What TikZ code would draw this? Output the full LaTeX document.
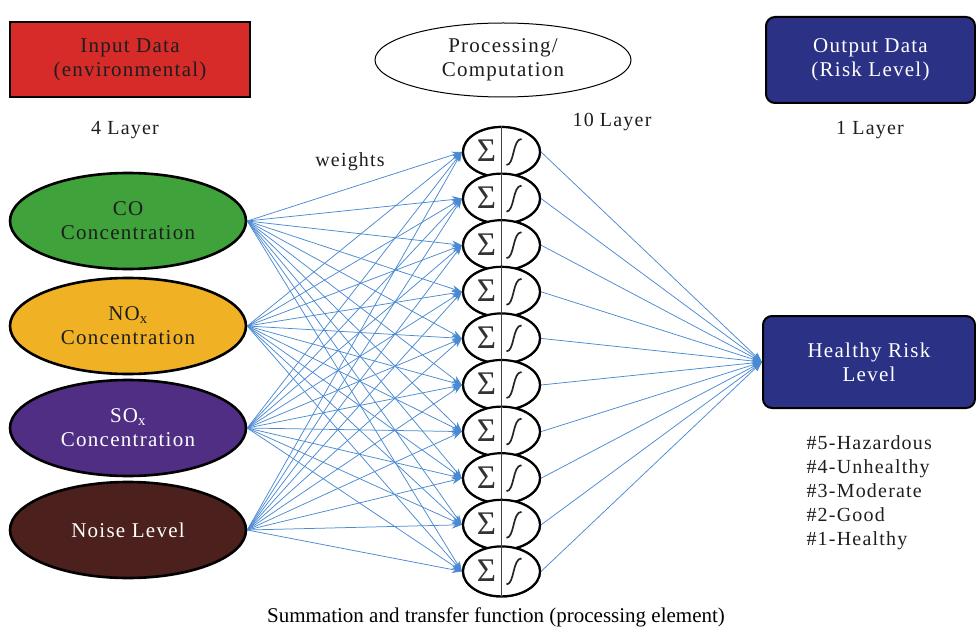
\documentclass[tikz,border=0pt]{standalone}
\usepackage{fontspec}
\setmainfont{Liberation Serif}[LetterSpace=6]
\newfontfamily\plainfont{Liberation Serif}
\usetikzlibrary{shapes.geometric,arrows.meta}
\definecolor{redbox}{HTML}{D62B28}
\definecolor{navy}{HTML}{2B3286}
\definecolor{cogreen}{HTML}{3FA23B}
\definecolor{noxorange}{HTML}{F0B224}
\definecolor{soxpurple}{HTML}{4F2E83}
\definecolor{noisebrown}{HTML}{4B201D}
\definecolor{wire}{HTML}{4A8AD2}
\definecolor{txtdark}{HTML}{1E1E1E}
\tikzset{
  lbl/.style={font=\fontsize{20}{23}\selectfont, text=txtdark, align=center},
  inellipse/.style={ellipse, draw=black, line width=2.6pt, minimum width=236pt, minimum height=96pt, inner sep=0pt, align=center, font=\fontsize{21}{24}\selectfont},
  neuron/.style={ellipse, draw=black, line width=2.2pt, minimum width=77pt, minimum height=50pt, inner sep=0pt},
  navybox/.style={draw=black, line width=2pt, fill=navy, rounded corners=9pt, text=white, align=center, font=\fontsize{21}{24}\selectfont},
  wirearrow/.style={draw=wire, line width=0.75pt, -{Stealth[length=10pt,width=7pt]}},
}
\begin{document}
\begin{tikzpicture}[x=1pt,y=-1pt]
\useasboundingbox (0,0) rectangle (976,628);
% top boxes
\node[draw=black, line width=2pt, fill=redbox, minimum width=240pt, minimum height=75pt, align=center, text=txtdark, font=\fontsize{21}{24}\selectfont] (inbox) at (130,60) {Input Data\\(environmental)};
\node[ellipse, draw=black, line width=1pt, fill=white, minimum width=256pt, minimum height=74pt, align=center, text=txtdark, font=\fontsize{21}{24}\selectfont] (proc) at (503,60) {Processing/\\Computation};
\node[navybox, minimum width=209pt, minimum height=86pt] (outbox) at (870.5,60) {Output Data\\(Risk Level)};
\node[lbl] (l4) at (125,130) {4 Layer};
\node[lbl] (l10) at (612,122) {10 Layer};
\node[lbl] (l1) at (870,130) {1 Layer};
\node[lbl] (wts) at (350,162) {weights};
% input ellipses
\node[inellipse, fill=cogreen, text=txtdark] (in1) at (128,221) {CO\\Concentration};
\node[inellipse, fill=noxorange, text=txtdark] (in2) at (128,326) {NO\textsubscript{x}\\Concentration};
\node[inellipse, fill=soxpurple, text=white] (in3) at (128,428) {SO\textsubscript{x}\\Concentration};
\node[inellipse, fill=noisebrown, text=white] (in4) at (128,530) {Noise Level};
% output box
\node[navybox, minimum width=212pt, minimum height=92pt] (risk) at (869,362) {Healthy Risk\\Level};
\node[lbl, align=left, anchor=north west, font=\fontsize{20}{24}\selectfont] (levels) at (803,432) {\#5-Hazardous\\\#4-Unhealthy\\\#3-Moderate\\\#2-Good\\\#1-Healthy};
% neurons
\foreach \i in {1,...,10}{
  \node[neuron] (n\i) at (501.5,{152+46.6*(\i-1)}) {};
}
% connectors
\foreach \a in {1,...,4}{
  \foreach \i in {1,...,10}{
    \draw[wirearrow] (in\a.east) -- (n\i.west);
  }
}
\foreach \i in {1,...,10}{
  \draw[wirearrow] (n\i.east) -- (risk.west);
}
% neuron contents drawn on top
\foreach \i in {1,...,10}{
  \draw[black, line width=2.2pt, fill=white] (n\i.center) ellipse[x radius=38.5pt, y radius=25pt];
  \draw[black!75, line width=1.2pt] (n\i.north) -- (n\i.south);
  \node[font=\plainfont\fontsize{33}{33}\selectfont, text=black!80, inner sep=0pt] at ([xshift=-15pt,yshift=1pt]n\i.center) {Σ};
  \draw[black!85, line width=1.7pt] ([xshift=5pt,yshift=-13pt]n\i.center) .. controls ([xshift=13pt,yshift=-13pt]n\i.center) and ([xshift=11pt,yshift=13pt]n\i.center) .. ([xshift=20pt,yshift=13pt]n\i.center);
}
% caption
\node[font=\plainfont\fontsize{21}{24}\selectfont, text=black] (cap) at (496,617) {Summation and transfer function (processing element)};
\end{tikzpicture}
\end{document}
